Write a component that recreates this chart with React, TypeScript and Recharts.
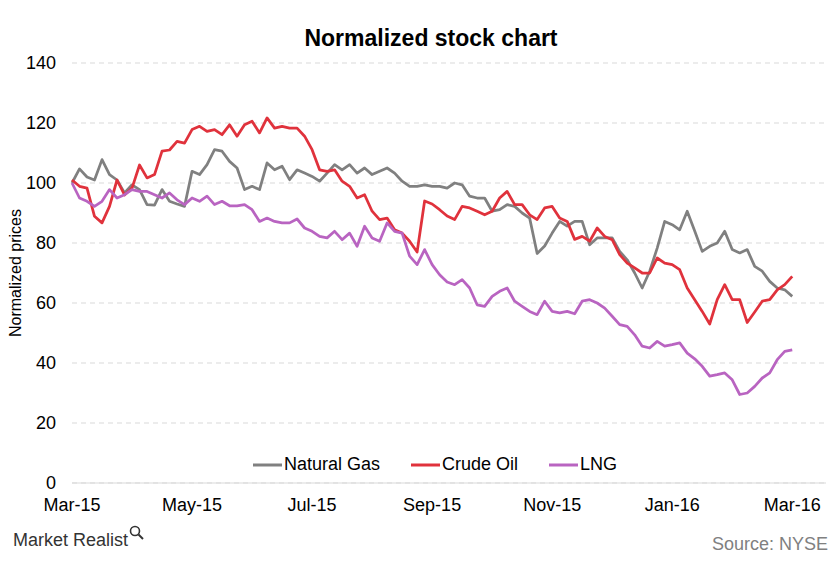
import React from 'react';
import { LineChart, Line, XAxis, YAxis, CartesianGrid } from 'recharts';

// Normalized prices, sampled about every 1/8 month from Mar-15 to Mar-16
const naturalGas = [
  100, 104.7, 102, 101, 107.8, 102.8, 101, 96.7, 99.4, 97.8, 92.8, 92.6, 97.8, 93.9, 93, 92.2, 103.9,
  102.8, 106.1, 111.1, 110.6, 107.2, 105, 97.8, 98.9, 97.8, 106.7, 104.4, 105.6, 101.1, 104.4, 103.3, 102.2, 100.6,
  103.3, 106.1, 104.4, 106.1, 103.3, 105, 102.8, 103.9, 105, 103.3, 100.6, 98.9, 98.9, 99.4, 98.9, 98.9, 98.3,
  100, 99.4, 95.6, 95, 95, 90.6, 91.1, 92.8, 92.2, 90, 88.3, 76.5, 79, 83.3, 87.2, 85.6, 87.2,
  87.2, 79.4, 81.7, 81.7, 81.7, 77.2, 74.4, 70, 65, 70.6, 78.3, 87.2, 86.1, 84.4, 90.6, 84,
  77.2, 78.9, 80, 83.9, 77.8, 76.7, 77.8, 72.2, 70.6, 67.2, 65, 64.4, 62.2,
];

const crudeOil = [
  101, 98.9, 98.3, 88.9, 86.7, 92.2, 101, 96, 98.3, 106, 101.7, 102.8, 110.6, 111, 113.9, 113.3, 117.8,
  118.9, 117.2, 117.8, 116.1, 119.4, 115.6, 119.4, 120.6, 116.7, 121.7, 118.3, 118.9, 118.3, 118.3, 115.6, 111.1, 104.4,
  103.9, 104.4, 100.6, 98.9, 95, 96.1, 90.6, 87.8, 88.3, 84.4, 83.3, 80.6, 77, 94, 93, 91.1, 89,
  87.8, 92.2, 91.7, 90.6, 89.4, 90.6, 95, 97.2, 92.8, 92.8, 89.4, 87.8, 91.7, 92.2, 88.3, 87.2, 81.2,
  82.2, 80.6, 85, 82.2, 81.1, 76.1, 73.3, 71.7, 70, 70, 75, 73.3, 72.8, 71.1, 65, 61.1,
  57.2, 53, 61.1, 66.1, 61.1, 61.1, 53.5, 57, 60.6, 61.1, 64.4, 66.1, 68.9,
];

const lng = [
  100, 95, 93.9, 92.2, 93.9, 97.8, 95, 96.1, 97.8, 97.2, 97.2, 96.1, 95, 96.7, 94.4, 92.8, 95,
  93.9, 95.6, 92.8, 93.9, 92.4, 92.4, 92.8, 91.1, 87.2, 88.3, 87.2, 86.7, 86.7, 88, 85, 83.9, 82.2,
  81.7, 83.9, 81.1, 83.3, 78.9, 85.6, 81.7, 80.6, 86.7, 83.9, 83.3, 75.6, 72.8, 77.8, 72.8, 69.4, 67,
  66.1, 67.8, 65, 59.4, 58.9, 62.2, 63.9, 65, 60.6, 58.9, 57.2, 56.1, 60.6, 57.2, 56.7, 57.2, 56.4,
  60.6, 61.1, 60, 58.3, 55.6, 52.8, 52.2, 49.4, 45.6, 45, 47.2, 45.6, 46.1, 46.7, 43.3, 41.4,
  38.9, 35.6, 36.1, 36.7, 34.4, 29.5, 30, 32.2, 35, 36.7, 41.1, 43.9, 44.4,
];

const monthLabels = ['Mar-15', 'May-15', 'Jul-15', 'Sep-15', 'Nov-15', 'Jan-16', 'Mar-16'];
const yTicks = [0, 20, 40, 60, 80, 100, 120, 140];

const SAMPLES_PER_LABEL = 16; // 2 months between labels, 8 samples per month

const FONT = '"Liberation Sans", Arial, sans-serif';

const series = [
  { key: 'gas', name: 'Natural Gas', color: '#808080' },
  { key: 'oil', name: 'Crude Oil', color: '#e0323c' },
  { key: 'lng', name: 'LNG', color: '#b964c1' },
];

const chartData = naturalGas.map((v, i) => ({
  idx: i,
  gas: v,
  oil: crudeOil[i],
  lng: lng[i],
}));

const xTicks = monthLabels.map((_, i) => i * SAMPLES_PER_LABEL);

export default function App() {
  return (
    <div
      style={{
        position: 'absolute',
        left: 0,
        top: 0,
        width: 840,
        height: 580,
        background: '#fff',
        fontFamily: FONT,
      }}
    >
      <div
        style={{
          position: 'absolute',
          top: 25,
          left: 0,
          width: 862,
          textAlign: 'center',
          fontSize: 23,
          fontWeight: 'bold',
          color: '#000',
        }}
      >
        Normalized stock chart
      </div>

      <LineChart
        width={840}
        height={580}
        data={chartData}
        margin={{ top: 63, right: 14, left: 0, bottom: 67 }}
      >
        <CartesianGrid vertical={false} stroke="#d9d9d9" strokeDasharray="5 4" />
        <XAxis
          dataKey="idx"
          type="number"
          domain={[0, 100.5]}
          ticks={xTicks}
          interval={0}
          tickFormatter={(v: number) => monthLabels[Math.round(v / SAMPLES_PER_LABEL)]}
          tick={{ fill: '#000', fontSize: 18, fontFamily: FONT }}
          tickLine={false}
          tickMargin={9}
          axisLine={{ stroke: '#d9d9d9' }}
          height={30}
        />
        <YAxis
          domain={[0, 140]}
          ticks={yTicks}
          interval={0}
          width={72}
          tick={{ fill: '#000', fontSize: 18, fontFamily: FONT }}
          tickLine={false}
          axisLine={false}
          tickMargin={10}
          label={{
            value: 'Normalized prices',
            angle: -90,
            position: 'center',
            dx: -21,
            fill: '#000',
            fontSize: 16,
            fontFamily: FONT,
          }}
        />
        {series.map((s) => (
          <Line
            key={s.key}
            type="linear"
            dataKey={s.key}
            name={s.name}
            stroke={s.color}
            strokeWidth={2.75}
            strokeLinejoin="round"
            dot={false}
            activeDot={false}
            isAnimationActive={false}
          />
        ))}
      </LineChart>

      {/* legend sits inside the plot, just above the zero line */}
      <div
        style={{
          position: 'absolute',
          top: 454,
          left: 253,
          display: 'flex',
          alignItems: 'center',
          fontSize: 18,
          color: '#000',
        }}
      >
        {series.map((s) => (
          <span key={s.key} style={{ display: 'flex', alignItems: 'center', marginRight: 31 }}>
            <svg width={29} height={4} style={{ marginRight: 2 }}>
              <line x1={0} y1={2} x2={29} y2={2} stroke={s.color} strokeWidth={3} />
            </svg>
            {s.name}
          </span>
        ))}
      </div>

      <div
        style={{
          position: 'absolute',
          left: 13,
          top: 530,
          fontSize: 18,
          color: '#333',
          display: 'flex',
          alignItems: 'flex-start',
        }}
      >
        Market Realist
        <svg width={16} height={16} style={{ marginLeft: 1, marginTop: -5 }}>
          <circle cx={6} cy={6} r={4.5} fill="none" stroke="#333" strokeWidth={1.6} />
          <line x1={9.5} y1={9.5} x2={14} y2={14} stroke="#333" strokeWidth={2} />
        </svg>
      </div>

      <div
        style={{
          position: 'absolute',
          right: 12,
          top: 534,
          fontSize: 18,
          color: '#808080',
        }}
      >
        Source: NYSE
      </div>
    </div>
  );
}
